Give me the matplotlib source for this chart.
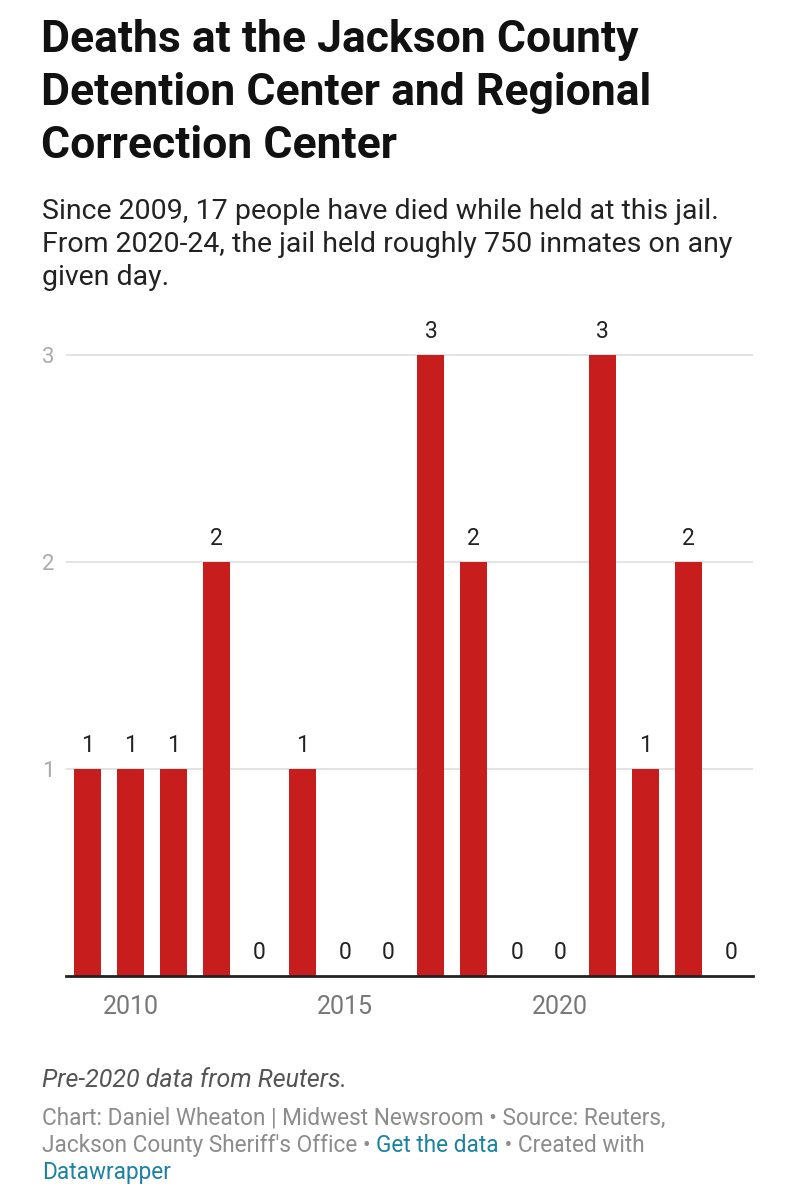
import matplotlib
matplotlib.use('Agg')
import matplotlib.pyplot as plt

plt.rcParams['font.family'] = ['Roboto', 'DejaVu Sans']

# deaths per year at the jail
years = [2009, 2010, 2011, 2012, 2013, 2014, 2015, 2016,
         2017, 2018, 2019, 2020, 2021, 2022, 2023, 2024]
deaths = [1, 1, 1, 2, 0, 1, 0, 0, 3, 2, 0, 0, 3, 1, 2, 0]
x_ticks = [2010, 2015, 2020]
y_ticks = [1, 2, 3]

title_lines = ["Deaths at the Jackson County",
               "Detention Center and Regional",
               "Correction Center"]
sub_lines = ["Since 2009, 17 people have died while held at this jail.",
             "From 2020-24, the jail held roughly 750 inmates on any",
             "given day."]

W, H = 794, 1200
fig = plt.figure(figsize=(W / 100, H / 100), dpi=100)


def fy(py):
    return 1 - py / H


def fx(px):
    return px / W


# titles
for i, line in enumerate(title_lines):
    fig.text(fx(41), fy(52 + 53 * i), line, fontsize=32, fontweight='bold',
             color='#111111', va='baseline', ha='left')
for i, line in enumerate(sub_lines):
    fig.text(fx(42), fy(219 + 33 * i), line, fontsize=20.5,
             color='#222222', va='baseline', ha='left')

# chart area
ax_left, ax_right = 66, 753
y0_px, y3_px = 976, 355
unit = (y0_px - y3_px) / 3
ytop = 3.2
top_px = y0_px - ytop * unit
ax = fig.add_axes([fx(ax_left), fy(y0_px), (ax_right - ax_left) / W,
                   (y0_px - top_px) / H])

ax.bar(years, deaths, width=0.63, color='#c71e1d', zorder=2)
for yr, d in zip(years, deaths):
    ax.annotate(str(d), (yr, d), xytext=(0, 12), textcoords='offset points',
                ha='center', va='baseline', fontsize=16.5, color='#222222',
                annotation_clip=False)

ax.set_xlim(2008.5, 2024.5)
ax.set_ylim(0, ytop)
ax.set_xticks(x_ticks)
ax.set_xticklabels([str(t) for t in x_ticks])
ax.set_yticks(y_ticks)
ax.set_yticklabels([str(t) for t in y_ticks])
ax.tick_params(axis='both', length=0)
ax.tick_params(axis='x', pad=13.5, labelsize=18, labelcolor='#777777')
ax.tick_params(axis='y', pad=8.5, labelsize=16, labelcolor='#aaaaaa')
ax.grid(axis='y', color='#e0e0e0', linewidth=1.3, zorder=0)
for s in ['top', 'right', 'left']:
    ax.spines[s].set_visible(False)
ax.spines['bottom'].set_color('#222222')
ax.spines['bottom'].set_linewidth(2)
ax.spines['bottom'].set_zorder(3)

# notes and footer
fig.text(fx(42), fy(1087), "Pre-2020 data from Reuters.", fontsize=18,
         style='italic', color='#555555', va='baseline', ha='left')

gray = '#8c8c8c'
blue = '#1d81a2'
foot_size = 16.3
renderer = fig.canvas.get_renderer()


def write_pieces(pieces, px, py):
    x = fx(px)
    for txt, col in pieces:
        t = fig.text(x, fy(py), txt, fontsize=foot_size, color=col,
                     va='baseline', ha='left')
        bb = t.get_window_extent(renderer=renderer)
        x = x + bb.width / W


write_pieces([("Chart: Daniel Wheaton | Midwest Newsroom \u2022 Source: Reuters,", gray)], 42, 1125)
write_pieces([("Jackson County Sheriff's Office \u2022 ", gray),
              ("Get the data", blue),
              (" \u2022 Created with", gray)], 42, 1152)
write_pieces([("Datawrapper", blue)], 42, 1179)

fig.savefig('out.png', dpi=100)
